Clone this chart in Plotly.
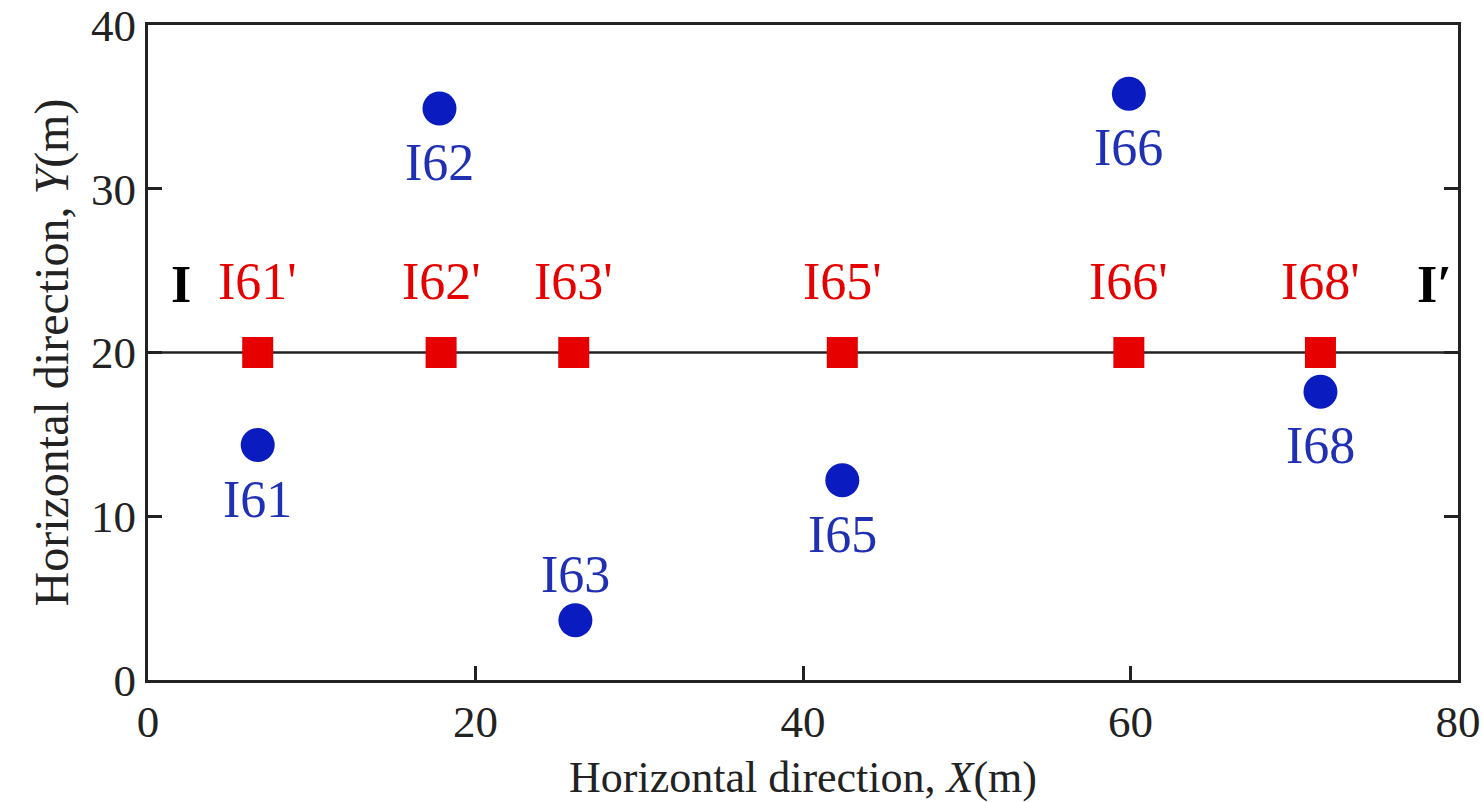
import plotly.graph_objects as go

# Survey line I–I' at Y = 20 m: projected points (squares) and boreholes (circles)
proj_names = ["I61'", "I62'", "I63'", "I65'", "I66'", "I68'"]
proj_x = [6.7, 17.9, 26.0, 42.4, 59.9, 71.6]
proj_y = [20, 20, 20, 20, 20, 20]

hole_names = ["I61", "I62", "I63", "I65", "I66", "I68"]
hole_x = [6.7, 17.8, 26.1, 42.4, 59.9, 71.6]
hole_y = [14.35, 34.9, 3.65, 12.2, 35.8, 17.6]

section_y = 20
x_ticks = [0, 20, 40, 60, 80]
y_ticks = [0, 10, 20, 30, 40]

FONT = "Liberation Serif, Times New Roman, serif"
RED = "#e60000"
BLUE = "#0a1cc0"
BLUE_TXT = "#1f30b4"
AX = "#222222"

fig = go.Figure()

fig.add_shape(type="line", xref="paper", x0=0, x1=1, yref="y", y0=section_y, y1=section_y,
              line=dict(color=AX, width=2.5), layer="below")

fig.add_trace(go.Scatter(x=hole_x, y=hole_y, mode="markers",
                         marker=dict(symbol="circle", size=34, color=BLUE),
                         hoverinfo="skip", showlegend=False))
fig.add_trace(go.Scatter(x=proj_x, y=proj_y, mode="markers",
                         marker=dict(symbol="square", size=31, color=RED),
                         hoverinfo="skip", showlegend=False))

# labels for projected points, above the section line
for name, x, y in zip(proj_names, proj_x, proj_y):
    fig.add_annotation(x=x, y=y, text=name, showarrow=False, yshift=71,
                       font=dict(family=FONT, size=52, color=RED))

# borehole labels: below the marker, except where the marker sits near the axis
for name, x, y in zip(hole_names, hole_x, hole_y):
    shift = 46 if y < 8 else -54
    fig.add_annotation(x=x, y=y, text=name, showarrow=False, yshift=shift,
                       font=dict(family=FONT, size=52, color=BLUE_TXT))

# section end markers
fig.add_annotation(x=0, y=section_y, xref="x", text="<b>I</b>", showarrow=False,
                   xanchor="center", xshift=33, yshift=68,
                   font=dict(family=FONT, size=52, color="black"))
fig.add_annotation(x=80, y=section_y, xref="x", text="<b>I′</b>", showarrow=False,
                   xanchor="center", xshift=-24, yshift=68,
                   font=dict(family=FONT, size=52, color="black"))

# x-axis title, set just below the tick labels
fig.add_annotation(x=0.5, y=0, xref="paper", yref="paper", yanchor="top",
                   text="Horizontal direction, <i>X</i>(m)", showarrow=False, yshift=-71,
                   font=dict(family=FONT, size=44, color="#222222"))

axis_common = dict(showgrid=False, zeroline=False, showline=True, linecolor=AX, linewidth=3,
                   ticks="inside", ticklen=14, tickwidth=3, tickcolor=AX,
                   ticklabeloverflow="allow",
                   tickfont=dict(family=FONT, size=45, color="#222222"))

fig.update_xaxes(range=[0, 80], tickvals=x_ticks, mirror=True, **axis_common)
fig.update_yaxes(range=[0, 40], tickvals=y_ticks, mirror="ticks",
                 title=dict(text="Horizontal direction, <i>Y</i>(m)", standoff=8,
                            font=dict(family=FONT, size=48, color="#222222")),
                 **axis_common)

fig.update_layout(width=1483, height=802, plot_bgcolor="white", paper_bgcolor="white",
                  margin=dict(l=148, r=25, t=25, b=122, autoexpand=False))

fig.write_html("out.html")
